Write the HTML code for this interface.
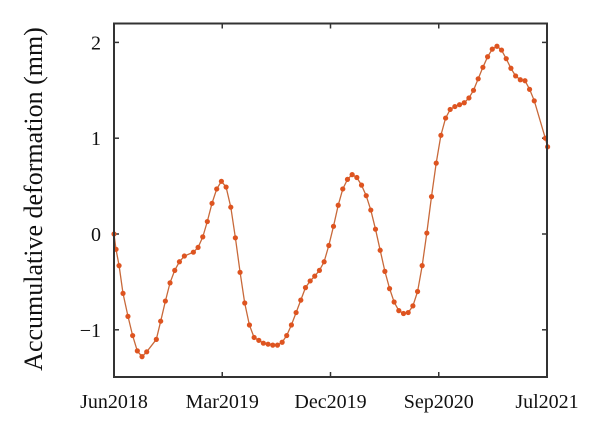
<!DOCTYPE html>
<html><head><meta charset="utf-8"><style>
html,body{margin:0;padding:0;background:#fff;width:600px;height:433px;overflow:hidden}
text{font-family:"Liberation Serif",serif;fill:#111}
</style></head><body>
<svg id="chart" width="600" height="433" xmlns="http://www.w3.org/2000/svg">
<rect x="0" y="0" width="600" height="433" fill="#fff"/>
<text transform="translate(42,199) rotate(-90)" text-anchor="middle" font-size="26">Accumulative deformation (mm)</text>
<g id="plot"></g>
</svg>
<script>
const months = [0,0.17,0.42,0.75,1.16,1.55,1.94,2.33,2.72,3.52,3.88,4.27,4.66,5.05,5.44,5.85,6.60,6.99,7.38,7.76,8.15,8.54,8.93,9.32,9.71,10.09,10.48,10.87,11.26,11.65,12.04,12.42,12.81,13.20,13.59,13.98,14.36,14.75,15.14,15.53,15.92,16.31,16.69,17.08,17.47,17.86,18.25,18.64,19.02,19.41,19.80,20.19,20.58,20.97,21.35,21.74,22.13,22.52,22.91,23.29,23.68,24.07,24.46,24.85,25.24,25.62,26.01,26.40,26.79,27.18,27.57,27.95,28.34,28.73,29.12,29.51,29.89,30.28,30.67,31.06,31.45,31.84,32.22,32.61,33.00,33.39,33.78,34.17,34.55,34.94,35.86,36.05];
const deformation = [0,-0.16,-0.33,-0.62,-0.86,-1.06,-1.22,-1.28,-1.23,-1.10,-0.91,-0.70,-0.51,-0.38,-0.29,-0.23,-0.19,-0.14,-0.03,0.13,0.32,0.47,0.55,0.49,0.28,-0.04,-0.40,-0.72,-0.95,-1.08,-1.11,-1.14,-1.15,-1.16,-1.16,-1.13,-1.06,-0.95,-0.82,-0.69,-0.56,-0.49,-0.44,-0.38,-0.29,-0.12,0.08,0.30,0.47,0.57,0.62,0.59,0.51,0.40,0.25,0.05,-0.17,-0.39,-0.57,-0.71,-0.80,-0.83,-0.82,-0.75,-0.60,-0.33,0.01,0.39,0.74,1.03,1.21,1.30,1.33,1.35,1.37,1.42,1.50,1.62,1.74,1.85,1.93,1.96,1.92,1.83,1.73,1.65,1.61,1.60,1.51,1.39,1.00,0.91];
const xTickMonths = [0,9,18,27,36];
const xTickLabels = ["Jun2018","Mar2019","Dec2019","Sep2020","Jul2021"];
const yTicks = [-1,0,1,2];

const L=114,R=547,T=23.5,B=377;
const xS = m => L + (m/36)*(R-L);
const yS = v => 234 - v*95.8;
const NS="http://www.w3.org/2000/svg";
const g=document.getElementById('plot');
function mk(t,a){const e=document.createElementNS(NS,t);for(const k in a)e.setAttribute(k,a[k]);g.appendChild(e);return e;}

xTickMonths.forEach((m,i)=>{
  const x=xS(m);
  const t1=mk('line',{x1:x,x2:x,y1:B,y2:B-5,stroke:'#333','stroke-width':1.5});
  
  
  const t2=mk('line',{x1:x,x2:x,y1:T,y2:T+5,stroke:'#333','stroke-width':1.5});
  
  
  const tx=mk('text',{x:x,y:408,'text-anchor':'middle','font-size':20});
  tx.textContent=xTickLabels[i];
  
  
});
yTicks.forEach(v=>{
  const y=yS(v);
  const t1=mk('line',{x1:L,x2:L+5,y1:y,y2:y,stroke:'#333','stroke-width':1.5});
  
  
  const t2=mk('line',{x1:R,x2:R-5,y1:y,y2:y,stroke:'#333','stroke-width':1.5});
  
  
  const tx=mk('text',{x:101,y:y+7,'text-anchor':'end','font-size':20});
  tx.textContent=v<0?'\u2212'+Math.abs(v):String(v);
  
  
});
const pts=months.map((m,i)=>xS(m).toFixed(1)+','+yS(deformation[i]).toFixed(1)).join(' ');
const line=mk('polyline',{points:pts,fill:'none',stroke:'#c8693a','stroke-width':1.3});


months.forEach((m,i)=>{
  const c=mk('circle',{cx:xS(m),cy:yS(deformation[i]),r:2.6,fill:'#de5420'});
  
  
});
const box=mk('rect',{x:L,y:T,width:R-L,height:B-T,fill:'none',stroke:'#333','stroke-width':2});


</script>
</body></html>
